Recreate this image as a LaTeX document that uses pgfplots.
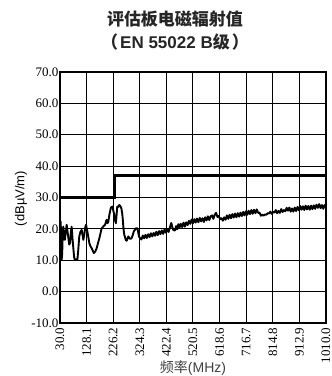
\documentclass[border=0pt]{standalone}
\usepackage{fontspec}
\setmainfont{Liberation Serif}
\setsansfont{Liberation Sans}
\newfontfamily\cjk{Noto Sans CJK SC}
\usepackage{pgfplots}
\pgfplotsset{compat=1.18}

\begin{document}
\begin{tikzpicture}
\useasboundingbox (0pt,0pt) rectangle (332pt,376pt);

% title
\node[text=black!85, font=\fontsize{17}{20}\selectfont\cjk\bfseries] at (175pt,357pt) {评估板电磁辐射值};
\node[text=black!85, font=\fontsize{17}{20}\selectfont\bfseries] at (175pt,334pt)
  {{\cjk （}\hspace{2pt}\sffamily EN 55022 B{\cjk 级}\hspace{2pt}{\cjk ）}};

% axis titles
\node[rotate=90, font=\fontsize{13}{15}\selectfont\sffamily] at (21pt,177.5pt) {(dB\textmu V/m)};
\node[text=black!75, font=\fontsize{14}{16}\selectfont] at (193pt,8pt) {{\cjk 频率}\sffamily(MHz)};

\begin{axis}[
  at={(60pt,53pt)}, anchor=south west,
  scale only axis, width=266pt, height=251pt,
  xmin=30, xmax=1010, ymin=-10, ymax=70,
  xtick={30,128,226,324,422,520,618,716,814,912,1010},
  xticklabels={30.0,128.1,226.2,324.3,422.4,520.5,618.6,716.7,814.8,912.9,1010.0},
  ytick={-10,0,10,20,30,40,50,60,70},
  yticklabel={\pgfmathprintnumber[fixed,fixed zerofill,precision=1]{\tick}},
  /pgf/number format/assume math mode=true,
  tick style={draw=none},
  grid=major,
  major grid style={black, line width=1pt},
  axis line style={black, line width=1.8pt},
  xticklabel style={rotate=90, anchor=east, font=\fontsize{13}{15}\selectfont, xshift=-1pt},
  yticklabel style={font=\fontsize{13}{15}\selectfont, xshift=2pt},
  clip=true,
]

% class B limit line
\addplot[black, line width=2.6pt, line join=miter] coordinates {
  (30,30) (230,30) (230,37) (1010,37)
};

% measured emission
\addplot[black, line width=1.9pt, line join=round] coordinates {
(30,21.5) (32.5,22.3) (35,14) (36,10.1) (38,12) (40,18) (42,20.7) (45,18)
(48,16.5) (51,19) (54.6,21.3) (58,19) (61,17) (64,15) (67,15.5) (70,19)
(73,20.7) (76,17) (79,14) (82,11) (85,10.1) (90,10.3) (94,10.1) (97,13)
(101,17.6) (105,19) (110,19.7) (113,18) (116,16.5) (120,18.5) (123,20.5)
(126,21.3) (130,19.5) (134,17.6) (138,15.5) (142,14.5) (147,13.8) (151,13)
(155,12.3) (160,12.8) (165,13.8) (170,15.5) (175,17) (179,18.5) (183.6,20.2)
(188,20.6) (192,21) (196,21.3) (200,22.5) (202,22.9) (205,21.8) (208,22.3)
(212,24.5) (217,26.6) (220,27) (224,27.1) (227,25.5) (229,25.0) (232,23)
(236,21.8) (239,25) (241,27.1) (245,27) (248,27.6) (252,27.3) (256,26.6)
(259,25) (261,23.4) (264,20) (267,18) (269,17.6) (272,16.5) (275.7,16.2)
(279,17) (282,17.6) (286,17) (290,16.8) (294,17.1) (298,18) (302,19.2)
(306,19.7) (310,20.2) (315,20.2) (318,19) (321,17.5) (325,17.1)
(330,16.6) (335,17.9) (340,17.0) (345,18.1) (350,17.1) (355,18.3) (360,17.4)
(365,18.6) (370,17.6) (375,18.7) (380,17.8) (385,19.1) (390,18.0) (395,19.3)
(400,18.3) (405,19.5) (410,18.4) (415,19.8) (420,18.8) (425,20.0) (430,19.0)
(435,20.5) (440,21.9) (444,20.5) (448,19.6) (454,19.5) (458,20.9) (462,19.9)
(466,21.5) (470,20.3) (475,21.6) (480,20.6) (485,22.0) (490,20.7) (495,22.1)
(500,21.2) (505,22.6) (510,21.6) (515,23.0) (520,21.8) (525,23.1) (530,22.0)
(535,23.3) (540,22.1) (545,23.5) (550,22.4) (555,23.4) (560,22.2) (565,23.7)
(570,22.7) (575,24.0) (580,22.8) (585,24.0) (590,24.3) (595,23.2) (600,24.5)
(605,25.1) (610,23.8) (615,24.1) (620,23.1) (625,23.4) (630,22.6) (635,23.7)
(640,22.9) (645,24.3) (650,23.2) (655,24.5) (660,23.4) (665,24.7) (670,23.6)
(675,24.9) (680,23.7) (685,25.0) (690,23.9) (695,25.2) (700,24.1) (705,25.4)
(710,24.3) (715,25.6) (720,24.5) (725,25.8) (730,24.7) (735,26.0) (740,24.8)
(745,26.1) (750,25.0) (755,26.2) (760,25.1) (765,25.2) (770,24.2) (775,24.5)
(780,24.2) (785,24.6) (790,24.5) (795,25.0) (800,24.9) (805,25.5) (810,24.8)
(815,25.4) (820,25.2) (825,26.0) (830,25.0) (835,25.7) (840,25.1) (845,26.3)
(850,25.4) (855,26.0) (860,25.6) (865,26.7) (870,25.8) (875,26.8) (880,25.5)
(885,26.5) (890,25.5) (895,26.8) (900,25.7) (905,27.0) (910,25.9) (915,27.3)
(920,26.1) (925,27.2) (930,26.0) (935,27.4) (940,26.2) (945,27.3) (950,26.1)
(955,27.4) (960,26.3) (965,27.5) (970,26.4) (975,27.7) (980,26.7) (985,27.9)
(990,26.6) (995,27.6) (1000,26.4) (1005,27.6) (1010,27.0)
};
\end{axis}
\end{tikzpicture}
\end{document}
